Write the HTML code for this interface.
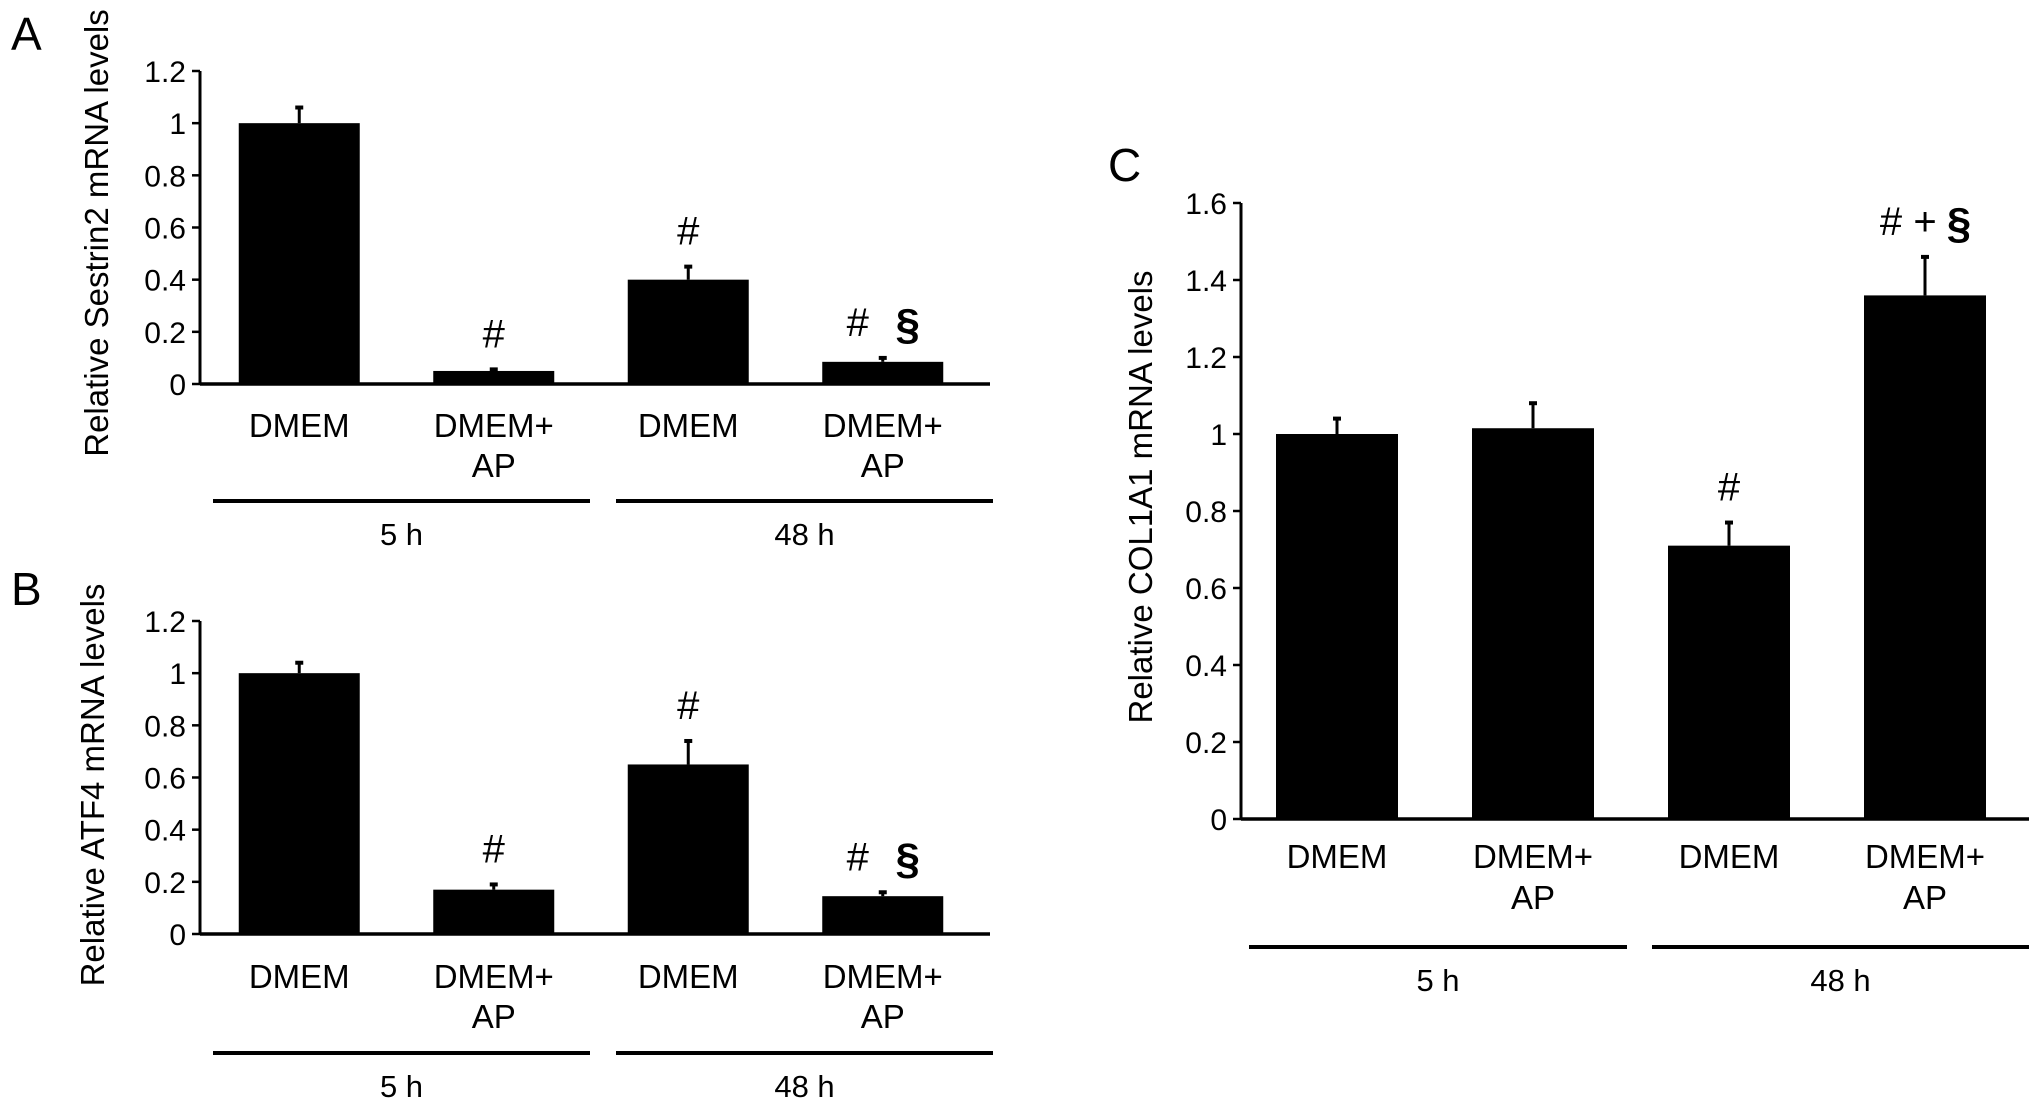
<!DOCTYPE html>
<html><head><meta charset="utf-8"><style>
html,body{margin:0;padding:0;background:#fff;}
svg{display:block;font-family:"Liberation Sans",Arial,sans-serif;}
</style></head><body>
<svg id="fig" width="2032" height="1110" viewBox="0 0 2032 1110" xmlns="http://www.w3.org/2000/svg">
<text x="11" y="50" font-size="46">A</text>
<text x="11" y="605" font-size="46">B</text>
<text x="1108" y="181" font-size="46">C</text>
</svg>
<script>
const categories = ["DMEM", "DMEM+|AP", "DMEM", "DMEM+|AP"];
const groups = ["5 h", "48 h"];
const sestrinValues = [1.0, 0.05, 0.40, 0.085];
const sestrinErrors = [0.06, 0.006, 0.05, 0.015];
const sestrinMarks = ["", "#", "#", "# §"];
const atf4Values = [1.0, 0.17, 0.65, 0.145];
const atf4Errors = [0.04, 0.02, 0.09, 0.015];
const atf4Marks = ["", "#", "#", "# §"];
const col1a1Values = [1.0, 1.015, 0.71, 1.36];
const col1a1Errors = [0.04, 0.065, 0.06, 0.10];
const col1a1Marks = ["", "", "#", "# + §"];
const ticksAB = ["0", "0.2", "0.4", "0.6", "0.8", "1", "1.2"];
const ticksC = ["0", "0.2", "0.4", "0.6", "0.8", "1", "1.2", "1.4", "1.6"];

const NS = "http://www.w3.org/2000/svg";
const svg = document.getElementById("fig");
function mk(tag, attrs, parent) {
  const e = document.createElementNS(NS, tag);
  for (const k in attrs) e.setAttribute(k, attrs[k]);
  (parent || svg).appendChild(e);
  return e;
}

function chart(cfg) {
  const g = mk("g", {});
  
  
  const yMax = cfg.ticks.length - 1;
  const step = 0.2;
  const y = v => cfg.y0 - (v / (yMax * step)) * (cfg.y0 - cfg.yTop);
  const slotW = cfg.slotW;
  const x = i => cfg.ax + slotW * (i + 0.5) + cfg.shift;
  const ya = mk("line", {x1: cfg.ax, y1: cfg.yTop, x2: cfg.ax, y2: cfg.y0, stroke: "#000", "stroke-width": 3}, g);
  
  
  cfg.ticks.forEach((t, i) => {
    const v = i * step;
    const tk = mk("line", {x1: cfg.ax - 8, y1: y(v), x2: cfg.ax, y2: y(v), stroke: "#000", "stroke-width": 2.5}, g);
    
    
    const tl = mk("text", {x: cfg.ax - 14, y: y(v) + 11, "font-size": 30, "text-anchor": "end"}, g);
    tl.textContent = t;
    
    
  });
  cfg.values.forEach((v, i) => {
    const cx = x(i);
    const b = mk("rect", {x: cx - cfg.barW / 2, y: y(v), width: cfg.barW, height: cfg.y0 - y(v), fill: "#000"}, g);
    
    
    const top = y(v + cfg.errors[i]);
    const eb = mk("line", {x1: cx, y1: y(v), x2: cx, y2: top, stroke: "#000", "stroke-width": 3}, g);
    
    
    const ec = mk("line", {x1: cx - 4, y1: top, x2: cx + 4, y2: top, stroke: "#000", "stroke-width": 4}, g);
    
    
    const m = cfg.marks[i];
    if (m) {
      const parts = m.split(" ");
      const n = parts.length;
      parts.forEach((p, k) => {
        const off = n === 1 ? 0 : (k - (n - 1) / 2) * (n === 2 ? 50 : 34);
        const big = p === "§";
        const at = mk("text", {x: cx + off, y: top - 36 + (big ? 17 : 14), "font-size": big ? 44 : 40, "text-anchor": "middle", "font-weight": big ? "bold" : "normal"}, g);
        at.textContent = p;
        
        
      });
    }
    const lines = categories[i].split("|");
    lines.forEach((ln, k) => {
      const xl = mk("text", {x: cx, y: cfg.labY + k * cfg.labGap, "font-size": 33, "text-anchor": "middle"}, g);
      xl.textContent = ln;
      
      
    });
  });
  const xa = mk("line", {x1: cfg.ax, y1: cfg.y0, x2: cfg.xEnd, y2: cfg.y0, stroke: "#000", "stroke-width": 3.5}, g);
  
  
  groups.forEach((gr, k) => {
    const [a, b] = cfg.groupX[k];
    const gl = mk("line", {x1: a, y1: cfg.gLineY, x2: b, y2: cfg.gLineY, stroke: "#000", "stroke-width": 4}, g);
    
    
    const gt = mk("text", {x: (a + b) / 2, y: cfg.gLineY + 44, "font-size": 31, "text-anchor": "middle"}, g);
    gt.textContent = gr;
    
    
  });
  const tt = mk("text", {x: 0, y: 0, "font-size": 33, "text-anchor": "middle", transform: "translate(" + cfg.titleX + "," + cfg.titleY + ") rotate(-90)"}, g);
  tt.textContent = cfg.title;
  
  
}

chart({name: "chart-sestrin2", values: sestrinValues, errors: sestrinErrors, marks: sestrinMarks, ticks: ticksAB,
  ax: 200, xEnd: 990, slotW: 194.5, yTop: 71, y0: 384, barW: 121, shift: 2, labY: 437, labGap: 40,
  gLineY: 501, groupX: [[213, 590], [616, 993]], title: "Relative Sestrin2 mRNA levels", titleX: 108, titleY: 233});
chart({name: "chart-atf4", values: atf4Values, errors: atf4Errors, marks: atf4Marks, ticks: ticksAB,
  ax: 200, xEnd: 990, slotW: 194.5, yTop: 621, y0: 934, barW: 121, shift: 2, labY: 988, labGap: 40,
  gLineY: 1053, groupX: [[213, 590], [616, 993]], title: "Relative ATF4 mRNA levels", titleX: 104, titleY: 785});
chart({name: "chart-col1a1", values: col1a1Values, errors: col1a1Errors, marks: col1a1Marks, ticks: ticksC,
  ax: 1241, xEnd: 2029, slotW: 196, yTop: 203, y0: 819, barW: 122, shift: -2, labY: 868, labGap: 41,
  gLineY: 947, groupX: [[1249, 1627], [1652, 2029]], title: "Relative COL1A1 mRNA levels", titleX: 1152, titleY: 497});
</script>
</body></html>
